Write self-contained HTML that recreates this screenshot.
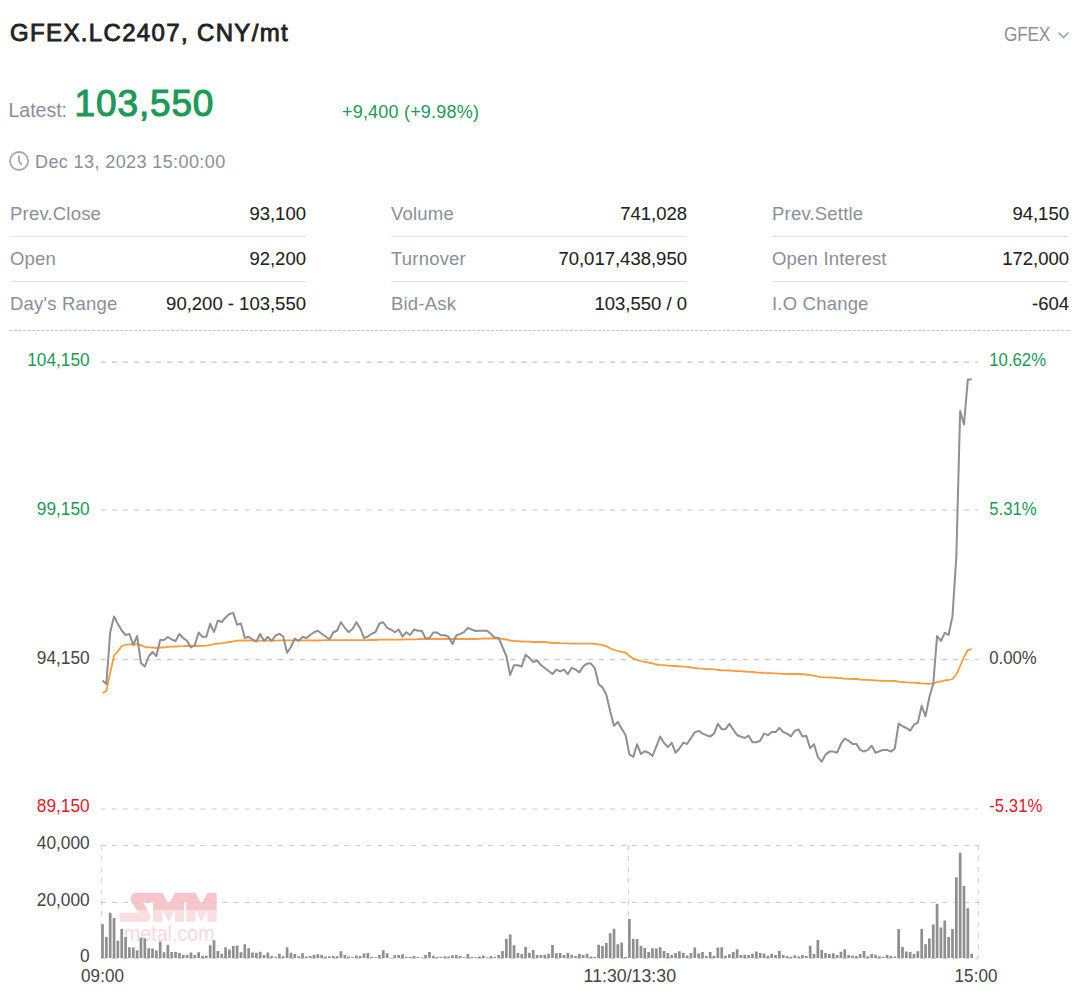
<!DOCTYPE html>
<html><head><meta charset="utf-8">
<style>
*{margin:0;padding:0;box-sizing:border-box}
html,body{width:1080px;height:1000px;background:#fff;overflow:hidden}
body{font-family:"Liberation Sans",sans-serif;color:#222;position:relative}
.a{position:absolute;white-space:nowrap;line-height:1}
#title{left:10px;top:20.8px;font-size:24px;color:#222;-webkit-text-stroke:0.85px #222;letter-spacing:1.35px}
#gfex{left:1003.6px;top:23.6px;font-size:20px;color:#8a8f99;letter-spacing:-0.2px;transform:scaleX(0.86);transform-origin:0 0}
#lat{left:8.5px;top:101px;font-size:19.5px;color:#8a8f99}
#price{left:74.6px;top:85px;font-size:37px;color:#1b9a59;-webkit-text-stroke:1.1px #1b9a59;letter-spacing:0.85px}
#chg{left:342px;top:103px;font-size:18px;color:#1b9a59;letter-spacing:0.2px}
#date{left:35px;top:152.5px;font-size:18px;color:#8a8f99;letter-spacing:0.4px}
.col{position:absolute;top:192px;width:296px}
.row{position:relative;height:45px;border-bottom:1px solid #e1e4ea}
.row:last-child{border-bottom:none}
.row .l{position:absolute;left:0;top:12.85px;font-size:18.5px;color:#8a8f99;letter-spacing:0.2px;line-height:1}
.row .v{position:absolute;right:0;top:12.85px;font-size:18.5px;color:#222;letter-spacing:0;line-height:1;-webkit-text-stroke:0.08px #222}
</style></head>
<body>
<div class="a" id="title">GFEX.LC2407, CNY/mt</div>
<div class="a" id="gfex">GFEX</div>
<svg style="position:absolute;left:1057px;top:31px" width="13" height="9" viewBox="0 0 13 9"><path d="M1.5 1.5 L6.5 6.5 L11.5 1.5" fill="none" stroke="#a0a4ab" stroke-width="1.6"/></svg>
<div class="a" id="lat">Latest:</div>
<div class="a" id="price">103,550</div>
<div class="a" id="chg">+9,400 (+9.98%)</div>
<svg style="position:absolute;left:9px;top:150.85px" width="21" height="21" viewBox="0 0 21 21"><circle cx="10.05" cy="10" r="9" fill="none" stroke="#a5a9af" stroke-width="1.8"/><path d="M9.95 5.2V9.6Q9.95 10.6 10.8 11.5L12.3 13" fill="none" stroke="#a5a9af" stroke-width="1.8" stroke-linecap="round"/></svg>
<div class="a" id="date">Dec 13, 2023 15:00:00</div>

<div class="col" style="left:10px">
 <div class="row"><span class="l">Prev.Close</span><span class="v">93,100</span></div>
 <div class="row"><span class="l">Open</span><span class="v">92,200</span></div>
 <div class="row"><span class="l">Day's Range</span><span class="v">90,200 - 103,550</span></div>
</div>
<div class="col" style="left:391px">
 <div class="row"><span class="l">Volume</span><span class="v">741,028</span></div>
 <div class="row"><span class="l">Turnover</span><span class="v">70,017,438,950</span></div>
 <div class="row"><span class="l">Bid-Ask</span><span class="v">103,550 / 0</span></div>
</div>
<div class="col" style="left:772px;width:297px">
 <div class="row"><span class="l">Prev.Settle</span><span class="v">94,150</span></div>
 <div class="row"><span class="l">Open Interest</span><span class="v">172,000</span></div>
 <div class="row"><span class="l">I.O Change</span><span class="v">-604</span></div>
</div>
<svg style="position:absolute;left:0;top:325px" width="1080" height="10"><path d="M8.9 5.5H1069" stroke="#c4c4c4" stroke-width="1" stroke-dasharray="3.05 1.5857"/></svg>

<!--CHART-->
<svg id="chart" style="position:absolute;left:0;top:0" width="1080" height="1000">
<defs><linearGradient id="wm" x1="0" y1="892.8" x2="0" y2="921.75" gradientUnits="userSpaceOnUse"><stop offset="0" stop-color="#f6c6cb"/><stop offset="0.598" stop-color="#f6c6cb"/><stop offset="0.598" stop-color="#fadfe2"/><stop offset="1" stop-color="#fadfe2"/></linearGradient></defs>
<path fill="url(#wm)" d="M136 892.8H162.5L168.75 904.25L175 892.8H195.6L201.4 904.25L207.4 892.8H216.7V902.2H131V898Q131 892.8 136 892.8Z"/>
<path fill="url(#wm)" d="M153.1 901.7H167.4L168.75 904.25L170.1 901.7H184.2V921.75H175V910L168.75 921.75L162.5 910V921.75H153.1Z"/>
<path fill="url(#wm)" d="M186.25 901.7H200.05L201.4 904.25L202.75 901.7H216.7V921.75H207.4V910L201.4 921.75L195.6 910V921.75H186.25Z"/>
<path fill="url(#wm)" d="M131 901.7H142.8L148.9 911.9Q150.6 914.5 150.6 916.5Q150.6 921.75 145 921.75H120V912.7H138.3L131.6 902.6Z"/>
<text x="124" y="940.9" font-family="Liberation Sans" font-size="21.5" fill="#fad8dc" textLength="90.5" lengthAdjust="spacingAndGlyphs">metal.com</text>
<g stroke="#cccccc" stroke-width="1" fill="none">
<path stroke="#c3c3c3" stroke-width="1.15" stroke-dasharray="5 6.07" d="M100.77 362.1H978M100.77 510H978"/>
<path stroke="#cbcbcb" stroke-width="1.15" stroke-dasharray="5 6.07" d="M100.77 659.6H978M100.77 809H978"/>
<path stroke-dasharray="5 6.068" d="M100.8 845.5H978M100.8 902.5H978M100.8 958.5H978"/>
<path stroke-dasharray="5 6.04" d="M101.3 845V958M978.3 845V958M628.4 845V958"/>
</g>
<g font-family="Liberation Sans" font-size="18.6">
<g text-anchor="end">
<text transform="translate(89.7 365.8) scale(0.93 1)" fill="#1b9a59">104,150</text>
<text transform="translate(89.7 514.9) scale(0.93 1)" fill="#1b9a59">99,150</text>
<text transform="translate(89.7 663.9) scale(0.93 1)" fill="#444">94,150</text>
<text transform="translate(89.7 812.3) scale(0.93 1)" fill="#de1a2d">89,150</text>
<text transform="translate(89.7 849.2) scale(0.93 1)" fill="#444">40,000</text>
<text transform="translate(89.7 905.6) scale(0.93 1)" fill="#444">20,000</text>
<text transform="translate(89.7 962.3) scale(0.93 1)" fill="#444">0</text>
</g>
<g text-anchor="start">
<text transform="translate(989.3 365.9) scale(0.9 1)" fill="#1b9a59">10.62%</text>
<text transform="translate(989.3 514.9) scale(0.9 1)" fill="#1b9a59">5.31%</text>
<text transform="translate(989.3 664.1) scale(0.9 1)" fill="#444">0.00%</text>
<text transform="translate(989.3 812.3) scale(0.9 1)" fill="#de1a2d">-5.31%</text>
</g>
<g text-anchor="middle" fill="#444">
<text transform="translate(102.5 982) scale(0.92 1)">09:00</text>
<text transform="translate(629.8 982) scale(0.955 1)">11:30/13:30</text>
<text transform="translate(976 982) scale(0.92 1)">15:00</text>
</g>
</g>
<path fill="#8f8f8f" d="M101.15 924.3h2.7V958.0h-2.7ZM105 937.1h2.7V958.0h-2.7ZM108.84 912.8h2.7V958.0h-2.7ZM112.69 918h2.7V958.0h-2.7ZM116.53 940.8h2.7V958.0h-2.7ZM120.38 929h2.7V958.0h-2.7ZM124.23 937.1h2.7V958.0h-2.7ZM128.07 947.3h2.7V958.0h-2.7ZM131.92 947.6h2.7V958.0h-2.7ZM135.76 950.2h2.7V958.0h-2.7ZM139.61 937.7h2.7V958.0h-2.7ZM143.46 938.2h2.7V958.0h-2.7ZM147.3 948.3h2.7V958.0h-2.7ZM151.15 948.6h2.7V958.0h-2.7ZM154.99 950.6h2.7V958.0h-2.7ZM158.84 941.5h2.7V958.0h-2.7ZM162.69 952.2h2.7V958.0h-2.7ZM166.53 944.7h2.7V958.0h-2.7ZM170.38 952h2.7V958.0h-2.7ZM174.22 952h2.7V958.0h-2.7ZM178.07 953.1h2.7V958.0h-2.7ZM181.92 954.8h2.7V958.0h-2.7ZM185.76 955.1h2.7V958.0h-2.7ZM189.61 952.6h2.7V958.0h-2.7ZM193.45 955h2.7V958.0h-2.7ZM197.3 952.2h2.7V958.0h-2.7ZM201.15 955.7h2.7V958.0h-2.7ZM204.99 955.7h2.7V958.0h-2.7ZM208.84 945.2h2.7V958.0h-2.7ZM212.68 940.3h2.7V958.0h-2.7ZM216.53 951.1h2.7V958.0h-2.7ZM220.38 953.8h2.7V958.0h-2.7ZM224.22 947.2h2.7V958.0h-2.7ZM228.07 949.6h2.7V958.0h-2.7ZM231.91 946.1h2.7V958.0h-2.7ZM235.76 945.4h2.7V958.0h-2.7ZM239.61 952.2h2.7V958.0h-2.7ZM243.45 944.3h2.7V958.0h-2.7ZM247.3 948.3h2.7V958.0h-2.7ZM251.14 952.4h2.7V958.0h-2.7ZM254.99 952.8h2.7V958.0h-2.7ZM258.84 951.7h2.7V958.0h-2.7ZM262.68 955h2.7V958.0h-2.7ZM266.53 952.5h2.7V958.0h-2.7ZM270.37 955.9h2.7V958.0h-2.7ZM274.22 956.7h2.7V958.0h-2.7ZM278.07 953.8h2.7V958.0h-2.7ZM281.91 956.3h2.7V958.0h-2.7ZM285.76 947.3h2.7V958.0h-2.7ZM289.6 952.8h2.7V958.0h-2.7ZM293.45 954h2.7V958.0h-2.7ZM297.3 956.2h2.7V958.0h-2.7ZM301.14 953.3h2.7V958.0h-2.7ZM304.99 956.5h2.7V958.0h-2.7ZM308.83 955.9h2.7V958.0h-2.7ZM312.68 954.8h2.7V958.0h-2.7ZM316.53 954.3h2.7V958.0h-2.7ZM320.37 954.8h2.7V958.0h-2.7ZM324.22 956.5h2.7V958.0h-2.7ZM328.06 956.3h2.7V958.0h-2.7ZM331.91 955.9h2.7V958.0h-2.7ZM335.76 956.3h2.7V958.0h-2.7ZM339.6 951.3h2.7V958.0h-2.7ZM343.45 955h2.7V958.0h-2.7ZM347.29 956.5h2.7V958.0h-2.7ZM351.14 956.9h2.7V958.0h-2.7ZM354.99 955.6h2.7V958.0h-2.7ZM358.83 955.9h2.7V958.0h-2.7ZM362.68 953.5h2.7V958.0h-2.7ZM366.52 953h2.7V958.0h-2.7ZM370.37 956.8h2.7V958.0h-2.7ZM374.22 957.3h2.7V958.0h-2.7ZM378.06 955h2.7V958.0h-2.7ZM381.91 950.3h2.7V958.0h-2.7ZM385.75 953.2h2.7V958.0h-2.7ZM393.45 955.3h2.7V958.0h-2.7ZM397.29 954.9h2.7V958.0h-2.7ZM401.14 954.3h2.7V958.0h-2.7ZM404.98 956.8h2.7V958.0h-2.7ZM408.83 957.1h2.7V958.0h-2.7ZM412.68 956h2.7V958.0h-2.7ZM416.52 957.1h2.7V958.0h-2.7ZM420.37 957.5h2.7V958.0h-2.7ZM424.21 955h2.7V958.0h-2.7ZM428.06 952.1h2.7V958.0h-2.7ZM431.91 955.8h2.7V958.0h-2.7ZM435.75 956.9h2.7V958.0h-2.7ZM439.6 957.1h2.7V958.0h-2.7ZM443.44 956.2h2.7V958.0h-2.7ZM447.29 956.6h2.7V958.0h-2.7ZM451.14 955.3h2.7V958.0h-2.7ZM454.98 955h2.7V958.0h-2.7ZM458.83 956h2.7V958.0h-2.7ZM462.67 957.3h2.7V958.0h-2.7ZM466.52 954h2.7V958.0h-2.7ZM470.37 956.9h2.7V958.0h-2.7ZM474.21 957.3h2.7V958.0h-2.7ZM478.06 956.6h2.7V958.0h-2.7ZM481.9 955.5h2.7V958.0h-2.7ZM485.75 957.3h2.7V958.0h-2.7ZM489.6 956h2.7V958.0h-2.7ZM493.44 956.7h2.7V958.0h-2.7ZM497.29 955h2.7V958.0h-2.7ZM501.13 951h2.7V958.0h-2.7ZM504.98 939.1h2.7V958.0h-2.7ZM508.83 934.4h2.7V958.0h-2.7ZM512.67 945.3h2.7V958.0h-2.7ZM516.52 953.1h2.7V958.0h-2.7ZM520.36 954h2.7V958.0h-2.7ZM524.21 947.1h2.7V958.0h-2.7ZM528.06 952.7h2.7V958.0h-2.7ZM531.9 949.9h2.7V958.0h-2.7ZM535.75 955h2.7V958.0h-2.7ZM539.59 955h2.7V958.0h-2.7ZM543.44 954.7h2.7V958.0h-2.7ZM547.29 953.8h2.7V958.0h-2.7ZM551.13 945h2.7V958.0h-2.7ZM554.98 953.2h2.7V958.0h-2.7ZM558.82 953.1h2.7V958.0h-2.7ZM562.67 955h2.7V958.0h-2.7ZM566.52 952.8h2.7V958.0h-2.7ZM570.36 954.8h2.7V958.0h-2.7ZM574.21 956.1h2.7V958.0h-2.7ZM578.05 953.9h2.7V958.0h-2.7ZM581.9 955h2.7V958.0h-2.7ZM585.75 953.8h2.7V958.0h-2.7ZM589.59 956.4h2.7V958.0h-2.7ZM593.44 956.9h2.7V958.0h-2.7ZM597.28 944.8h2.7V958.0h-2.7ZM601.13 946.1h2.7V958.0h-2.7ZM604.98 942.9h2.7V958.0h-2.7ZM608.82 933.2h2.7V958.0h-2.7ZM612.67 928.8h2.7V958.0h-2.7ZM616.51 944.2h2.7V958.0h-2.7ZM620.36 942.6h2.7V958.0h-2.7ZM624.21 957h2.7V958.0h-2.7ZM628.05 918.9h2.7V958.0h-2.7ZM631.9 939h2.7V958.0h-2.7ZM635.74 938.9h2.7V958.0h-2.7ZM639.59 945.7h2.7V958.0h-2.7ZM643.44 948h2.7V958.0h-2.7ZM647.28 952h2.7V958.0h-2.7ZM651.13 948.3h2.7V958.0h-2.7ZM654.97 948.5h2.7V958.0h-2.7ZM658.82 947.2h2.7V958.0h-2.7ZM662.67 950.9h2.7V958.0h-2.7ZM666.51 953.1h2.7V958.0h-2.7ZM670.36 955.1h2.7V958.0h-2.7ZM674.2 953h2.7V958.0h-2.7ZM678.05 951.3h2.7V958.0h-2.7ZM681.9 952.8h2.7V958.0h-2.7ZM685.74 955.6h2.7V958.0h-2.7ZM689.59 953.1h2.7V958.0h-2.7ZM693.43 947.6h2.7V958.0h-2.7ZM697.28 953.4h2.7V958.0h-2.7ZM701.13 952.1h2.7V958.0h-2.7ZM704.97 956h2.7V958.0h-2.7ZM708.82 952.1h2.7V958.0h-2.7ZM712.66 955.8h2.7V958.0h-2.7ZM716.51 947.5h2.7V958.0h-2.7ZM720.36 947.2h2.7V958.0h-2.7ZM724.2 955.8h2.7V958.0h-2.7ZM728.05 954.2h2.7V958.0h-2.7ZM731.89 952.1h2.7V958.0h-2.7ZM735.74 949.2h2.7V958.0h-2.7ZM739.59 954.9h2.7V958.0h-2.7ZM743.43 954.7h2.7V958.0h-2.7ZM747.28 954.9h2.7V958.0h-2.7ZM751.12 953.8h2.7V958.0h-2.7ZM754.97 951.5h2.7V958.0h-2.7ZM758.82 953h2.7V958.0h-2.7ZM762.66 953.6h2.7V958.0h-2.7ZM766.51 955.8h2.7V958.0h-2.7ZM770.35 953.8h2.7V958.0h-2.7ZM774.2 954.9h2.7V958.0h-2.7ZM778.05 951h2.7V958.0h-2.7ZM781.89 955.1h2.7V958.0h-2.7ZM785.74 956h2.7V958.0h-2.7ZM789.58 956.8h2.7V958.0h-2.7ZM793.43 955.3h2.7V958.0h-2.7ZM797.28 956.4h2.7V958.0h-2.7ZM801.12 955h2.7V958.0h-2.7ZM804.97 956h2.7V958.0h-2.7ZM808.81 945.8h2.7V958.0h-2.7ZM812.66 954h2.7V958.0h-2.7ZM816.51 940.1h2.7V958.0h-2.7ZM820.35 950.1h2.7V958.0h-2.7ZM824.2 953h2.7V958.0h-2.7ZM828.04 954h2.7V958.0h-2.7ZM831.89 953.2h2.7V958.0h-2.7ZM835.74 955h2.7V958.0h-2.7ZM839.58 951.8h2.7V958.0h-2.7ZM843.43 949.2h2.7V958.0h-2.7ZM847.27 955h2.7V958.0h-2.7ZM851.12 955.8h2.7V958.0h-2.7ZM854.97 956h2.7V958.0h-2.7ZM858.81 954h2.7V958.0h-2.7ZM862.66 951.1h2.7V958.0h-2.7ZM866.5 956.3h2.7V958.0h-2.7ZM870.35 954h2.7V958.0h-2.7ZM874.2 954.7h2.7V958.0h-2.7ZM878.04 956.3h2.7V958.0h-2.7ZM881.89 956.8h2.7V958.0h-2.7ZM885.73 954.8h2.7V958.0h-2.7ZM889.58 956.1h2.7V958.0h-2.7ZM893.43 956.5h2.7V958.0h-2.7ZM897.27 929h2.7V958.0h-2.7ZM901.12 947.1h2.7V958.0h-2.7ZM904.96 951.6h2.7V958.0h-2.7ZM908.81 952h2.7V958.0h-2.7ZM912.66 954h2.7V958.0h-2.7ZM916.5 951.2h2.7V958.0h-2.7ZM920.35 929h2.7V958.0h-2.7ZM924.19 944.3h2.7V958.0h-2.7ZM928.04 938.5h2.7V958.0h-2.7ZM931.89 924.5h2.7V958.0h-2.7ZM935.73 903.7h2.7V958.0h-2.7ZM939.58 927.6h2.7V958.0h-2.7ZM943.42 920.5h2.7V958.0h-2.7ZM947.27 937h2.7V958.0h-2.7ZM951.12 929h2.7V958.0h-2.7ZM954.96 877.2h2.7V958.0h-2.7ZM958.81 852.8h2.7V958.0h-2.7ZM962.65 886.1h2.7V958.0h-2.7ZM966.5 908.3h2.7V958.0h-2.7ZM970.35 953.7h2.7V958.0h-2.7Z"/>
<path fill="none" stroke="#fa9b3c" stroke-width="1.8" stroke-linejoin="round" d="M102.5 693 L106.35 691 L110.19 673 L114.04 655.5 L117.88 651.5 L121.73 646 L125.58 644.8 L129.42 644.3 L133.27 644.3 L137.11 644.3 L140.96 645.2 L144.81 646.8 L148.65 647.3 L152.5 647.5 L156.34 648 L160.19 647.5 L164.04 647.5 L167.88 646.8 L171.73 646.7 L175.57 646.5 L179.42 646.3 L183.27 646.2 L187.11 646 L190.96 646 L194.8 646 L198.65 646 L202.5 645.8 L206.34 645.7 L210.19 645 L214.03 644 L217.88 643.6 L221.73 643.3 L225.57 642.6 L229.42 642 L233.26 641.3 L237.11 640.6 L240.96 640.5 L244.8 640.5 L248.65 640.5 L252.49 640.5 L256.34 640.7 L260.19 640.68 L264.03 640.66 L267.88 640.64 L271.72 640.62 L275.57 640.6 L279.42 640.4 L283.26 640.41 L287.11 640.42 L290.95 640.43 L294.8 640.44 L298.65 640.45 L302.49 640.46 L306.34 640.47 L310.18 640.48 L314.03 640.49 L317.88 640.5 L321.72 640.3 L325.57 640.2 L329.41 640.2 L333.26 640.18 L337.11 640.17 L340.95 640.15 L344.8 640.13 L348.64 640.12 L352.49 640.1 L356.34 640.08 L360.18 640.07 L364.03 640.05 L367.87 640.03 L371.72 640.02 L375.57 640 L379.41 639.7 L383.26 639.67 L387.1 639.63 L390.95 639.6 L394.8 639.57 L398.64 639.53 L402.49 639.5 L406.33 639.42 L410.18 639.35 L414.03 639.28 L417.87 639.2 L421.72 639 L425.56 639 L429.41 639 L433.26 639 L437.1 639 L440.95 639 L444.79 639 L448.64 639 L452.49 639 L456.33 639 L460.18 639 L464.02 639 L467.87 639 L471.72 639 L475.56 639 L479.41 638.8 L483.25 638.5 L487.1 638.5 L490.95 638.5 L494.79 638.5 L498.64 638.5 L502.48 638.8 L506.33 639.5 L510.18 640.5 L514.02 641 L517.87 641.2 L521.71 641.5 L525.56 641.7 L529.41 641.7 L533.25 642 L537.1 642 L540.94 642 L544.79 642 L548.64 642.5 L552.48 643 L556.33 643 L560.17 643.2 L564.02 643.3 L567.87 643.4 L571.71 643.6 L575.56 643.6 L579.4 643.7 L583.25 643.7 L587.1 643.7 L590.94 643.7 L594.79 643.9 L598.63 644.4 L602.48 645.1 L606.33 646.1 L610.17 648.2 L614.02 650 L617.86 651 L621.71 652 L625.56 652.5 L629.4 656.1 L633.25 658.6 L637.09 659.9 L640.94 661 L644.79 662 L648.63 662.7 L652.48 663.5 L656.32 664.5 L660.17 664.9 L664.02 665.2 L667.86 665.6 L671.71 665.9 L675.55 666 L679.4 666.3 L683.25 666.6 L687.09 666.9 L690.94 667.3 L694.78 668 L698.63 668.4 L702.48 668.7 L706.32 669 L710.17 669.1 L714.01 669.4 L717.86 669.8 L721.71 670.4 L725.55 670.4 L729.4 670.5 L733.24 670.8 L737.09 671.2 L740.94 671.2 L744.78 671.5 L748.63 671.8 L752.47 671.9 L756.32 672.5 L760.17 672.6 L764.01 672.9 L767.86 673.1 L771.7 673.2 L775.55 673.3 L779.4 673.7 L783.24 673.9 L787.09 674 L790.93 674 L794.78 674 L798.63 674 L802.47 674.2 L806.32 674.5 L810.16 675.2 L814.01 675.7 L817.86 676.7 L821.7 677.1 L825.55 677.4 L829.39 677.5 L833.24 677.7 L837.09 678 L840.93 678.2 L844.78 678.7 L848.62 678.9 L852.47 679 L856.32 679 L860.16 679.5 L864.01 679.8 L867.85 679.9 L871.7 680.2 L875.55 680.5 L879.39 680.6 L883.24 680.8 L887.08 680.9 L890.93 680.9 L894.78 681 L898.62 681.7 L902.47 682 L906.31 682.3 L910.16 682.6 L914.01 682.7 L917.85 683 L921.7 683.4 L925.54 683.7 L929.39 683.8 L933.24 683.2 L937.08 682.2 L940.93 681.5 L944.77 680.3 L948.62 680 L952.47 679 L956.31 674.5 L960.16 666 L964 657 L967.85 650 L971.7 649.2"/>
<path fill="none" stroke="#909090" stroke-width="2" stroke-linejoin="round" d="M102.5 680.5 L106.35 684 L110.19 632.5 L114.04 616.5 L117.88 624 L121.73 630.5 L125.58 635 L129.42 634 L133.27 645 L137.11 636 L140.96 663 L144.81 666.5 L148.65 656.5 L152.5 652 L156.34 656 L160.19 640 L164.04 640 L167.88 637 L171.73 639.5 L175.57 641 L179.42 634 L183.27 638 L187.11 641 L190.96 647.5 L194.8 645 L198.65 632.5 L202.5 636.8 L206.34 636.8 L210.19 623.8 L214.03 632 L217.88 620.5 L221.73 622 L225.57 617.5 L229.42 614 L233.26 613 L237.11 624.8 L240.96 623.5 L244.8 638 L248.65 636.8 L252.49 639.5 L256.34 641.5 L260.19 634 L264.03 641 L267.88 636.8 L271.72 641 L275.57 635.5 L279.42 633.8 L283.26 636.8 L287.11 652.8 L290.95 647 L294.8 638.5 L298.65 641 L302.49 636.8 L306.34 638 L310.18 635 L314.03 632.2 L317.88 630.8 L321.72 633.8 L325.57 636.5 L329.41 639.3 L333.26 632.5 L337.11 630.5 L340.95 622.2 L344.8 627.8 L348.64 632.2 L352.49 629 L356.34 622.2 L360.18 628.2 L364.03 638.2 L367.87 636.5 L371.72 633.8 L375.57 632 L379.41 623.5 L383.26 622.2 L387.1 627.8 L390.95 629.5 L394.8 632.2 L398.64 629.5 L402.49 636.5 L406.33 632.2 L410.18 635 L414.03 629.5 L417.87 630.8 L421.72 630.8 L425.56 638.2 L429.41 638.2 L433.26 632.5 L437.1 632.5 L440.95 635.2 L444.79 635.2 L448.64 637 L452.49 644 L456.33 635.5 L460.18 633.8 L464.02 632.2 L467.87 627.8 L471.72 629.5 L475.56 631 L479.41 630.8 L483.25 630.8 L487.1 630.8 L490.95 634 L494.79 637.8 L498.64 637.8 L502.48 647 L506.33 656 L510.18 675 L514.02 665.2 L517.87 665.2 L521.71 666.5 L525.56 654.8 L529.41 658 L533.25 662.2 L537.1 660.5 L540.94 665 L544.79 668 L548.64 671 L552.48 674 L556.33 669.6 L560.17 671.3 L564.02 669.6 L567.87 674.1 L571.71 667.8 L575.56 669.6 L579.4 672.4 L583.25 666.4 L587.1 663.6 L590.94 663.6 L594.79 668.1 L598.63 684.3 L602.48 687.4 L606.33 694.7 L610.17 711.2 L614.02 725.9 L617.86 722 L621.71 728.7 L625.56 735 L629.4 754.4 L633.25 757 L637.09 744.3 L640.94 754.1 L644.79 751.3 L648.63 752.7 L652.48 756 L656.32 746.4 L660.17 736.6 L664.02 742.9 L667.86 747.1 L671.71 742.9 L675.55 752.7 L679.4 748.5 L683.25 742.7 L687.09 743.9 L690.94 738 L694.78 732.4 L698.63 730.8 L702.48 733.6 L706.32 735.2 L710.17 736.6 L714.01 733.6 L717.86 723.8 L721.71 729.2 L725.55 729.2 L729.4 723.8 L733.24 729.6 L737.09 735 L740.94 736.6 L744.78 738 L748.63 735.7 L752.47 742.2 L756.32 742.2 L760.17 740.8 L764.01 733.6 L767.86 735.2 L771.7 732 L775.55 732.1 L779.4 727.9 L783.24 732 L787.09 733.6 L790.93 736.4 L794.78 730.8 L798.63 729.4 L802.47 736.4 L806.32 735.7 L810.16 748.1 L814.01 744.3 L817.86 757 L821.7 761.8 L825.55 754.6 L829.39 751.6 L833.24 751.6 L837.09 752.7 L840.93 743.9 L844.78 738.5 L848.62 740.8 L852.47 743.9 L856.32 743.9 L860.16 749.9 L864.01 751.6 L867.85 749.9 L871.7 745.7 L875.55 752.7 L879.39 751.3 L883.24 749.9 L887.08 749.9 L890.93 751.6 L894.78 748.5 L898.62 723.6 L902.47 726.1 L906.31 728 L910.16 730.6 L914.01 724.7 L917.85 722.6 L921.7 705.8 L925.54 716.3 L929.39 697 L933.24 684 L937.08 636 L940.93 641 L944.77 632.8 L948.62 634.9 L952.47 616.2 L956.31 557 L960.16 411 L964 424.5 L967.85 379.5 L971.7 379.5"/>
</svg>
<!--/CHART-->
</body></html>
